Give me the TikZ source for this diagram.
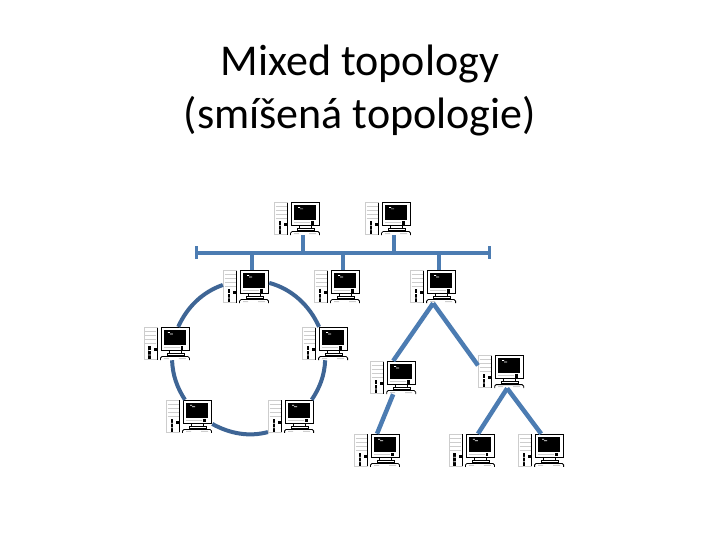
\documentclass[tikz,border=0pt]{standalone}
\usepackage{fontspec}
\setmainfont{Carlito}
\usepackage{tikz}
\usetikzlibrary{arrows.meta, positioning, calc, backgrounds}
\definecolor{busblue}{RGB}{76, 124, 178}
\definecolor{ringblue}{RGB}{62, 101, 149}
\definecolor{casegray}{RGB}{205, 205, 205}
\tikzset{
    pics/pcicon/.style={code={
        \begin{scope}[x=1bp, y=-1bp, shift={(-23,-16.5)}]
            \draw[casegray, fill=white, line width=.7bp] (.5,.5) rectangle (13.5,32.5);
            \draw[black, line width=.8bp] (13.5,.5) -- (13.5,32.5);
            \draw[casegray, line width=.7bp] (1.5,4) -- (12.5,4) (1.5,8) -- (12.5,8) (1.5,12) -- (12.5,12) (1.5,16) -- (12.5,16);
            \fill[black] (4.5,19) rectangle (6.8,32);
            \fill[white] (4.5,23) rectangle (6.8,23.7) (4.5,27.5) rectangle (6.8,28.2);
            \fill[black] (10,21) rectangle (12.6,24);
            \draw[black, fill=white, line width=.9bp] (17.2,.5) rectangle (45.5,23.5);
            \fill[black] (20,3) rectangle (42,18);
            \fill[white] (24,5) rectangle (26,5.8) (26,6.5) rectangle (29,7.2);
            \draw[casegray, line width=.7bp] (20,20.5) -- (36,20.5);
            \fill[black] (37,19) rectangle (39.5,22.5);
            \draw[black, line width=.8bp] (25,24) -- (25,26) -- (37,26) -- (37,24);
            \draw[black, fill=white, line width=.7bp] (23,26) rectangle (40,28);
            \draw[black, line width=.8bp, rounded corners=1.5bp] (16.5,33) -- (16.5,29.5) -- (45.5,29.5) -- (45.5,33);
            \fill[casegray] (20,31) rectangle (25,32) (35,31) rectangle (42,32);
        \end{scope}
    }}
}
\begin{document}
\begin{tikzpicture}[
    pc/.style={minimum width=46bp, minimum height=33bp, inner sep=0pt},
    buslink/.style={busblue, line width=4bp},
    treelink/.style={busblue, line width=4.5bp},
    ringlink/.style={ringblue, line width=4bp, looseness=.9},
    >=Stealth
]
    \useasboundingbox (0,0) rectangle (25.4,19.05);

    \node[align=center, font=\fontsize{44bp}{53bp}\selectfont] (title) at (12.7,15.86)
        {Mixed topology\\(smíšená topologie)};

    \coordinate (busL) at (6.88,10.14);
    \coordinate (busR) at (17.32,10.14);

    \node[pc] (busA) at (10.48,11.34) {};
    \node[pc] (busB) at (13.69,11.34) {};
    \node[pc] (busC) at (11.89,8.94) {};

    \node[pc] (ringT) at (8.68,8.94) {};
    \node[pc] (ringL) at (5.89,6.93) {};
    \node[pc] (ringR) at (11.47,6.93) {};
    \node[pc] (ringBL) at (6.67,4.36) {};
    \node[pc] (ringBR) at (10.27,4.36) {};

    \node[pc] (root) at (15.28,8.94) {};
    \node[pc] (treeL) at (13.87,5.73) {};
    \node[pc] (treeR) at (17.68,5.94) {};
    \node[pc] (leafA) at (13.30,3.16) {};
    \node[pc] (leafB) at (16.65,3.16) {};
    \node[pc] (leafC) at (19.09,3.16) {};

    \foreach \pcname in {busA, busB, busC, ringT, ringL, ringR, ringBL, ringBR, root, treeL, treeR, leafA, leafB, leafC}
        \pic at (\pcname) {pcicon};

    \draw[buslink, {Bar[width=13bp, line width=2.5bp]}-{Bar[width=13bp, line width=2.5bp]}] (busL) -- (busR);
    \foreach \pcname in {busA, busB}
        \draw[buslink] ([xshift=6bp]\pcname.south) -- ([xshift=6bp]\pcname.south |- busL);
    \foreach \pcname in {busC, ringT, root}
        \draw[buslink] ([xshift=6bp]\pcname.north) -- ([xshift=6bp]\pcname.north |- busL);

    \draw[ringlink] (ringT.9) to[out=-15, in=114] (ringR.110);
    \draw[ringlink] (ringT.176) to[out=199, in=66] (ringL.56);
    \draw[ringlink] (ringL.-73) to[out=-88, in=123] (ringBL.104);
    \draw[ringlink] (ringBL.-18) to[out=-29, in=195] (ringBR.214);
    \draw[ringlink] (ringBR.39) to[out=56, in=-92] (ringR.-90);

    \draw[treelink] (root.south) -- (treeL.north);
    \draw[treelink] (root.south) -- (treeR.165);
    \draw[treelink] (treeL.south) -- (leafA.north);
    \draw[treelink] ([xshift=6bp]treeR.south) -- ([xshift=6bp]leafB.north);
    \draw[treelink] ([xshift=6bp]treeR.south) -- (leafC.north);
\end{tikzpicture}
\end{document}
